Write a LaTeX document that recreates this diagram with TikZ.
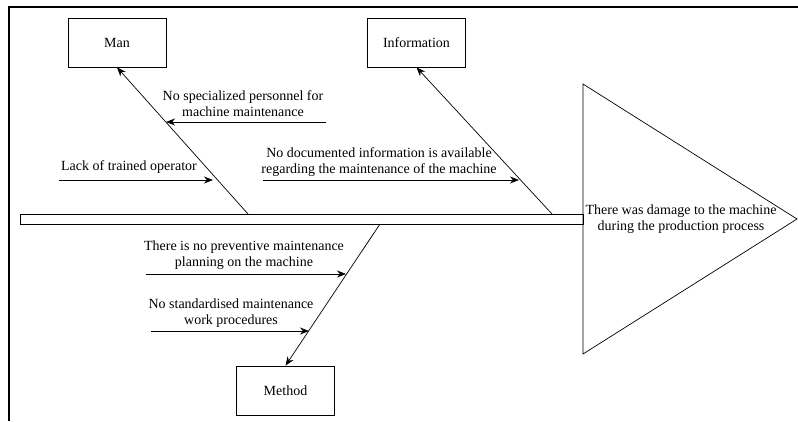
\documentclass[tikz,border=0pt]{standalone}
\usepackage{fontspec}
\setmainfont{Liberation Serif}
\usetikzlibrary{arrows.meta}
\begin{document}
\begin{tikzpicture}[x=1pt,y=-1pt,
  catbox/.style={draw,line width=0.7pt,minimum width=98pt,minimum height=49pt,font=\fontsize{14}{15}\selectfont,inner sep=0pt},
  bone/.style={line width=0.7pt,-{Stealth[length=9pt,width=7pt]}},
  lbl/.style={font=\fontsize{14}{16}\selectfont,align=center,inner sep=0pt}]
\useasboundingbox (0,0) rectangle (798,421);
% frame (top and left only)
\draw[line width=2.5pt] (9,421) -- (9,7) -- (798,7);
% boxes
\node[catbox] (man) at (117,42.5) {Man};
\node[catbox] (info) at (416.5,42.5) {Information};
\node[catbox] (method) at (285.5,390.5) {Method};
% spine
\draw[line width=0.7pt] (20,214) rectangle (583,224);
% head triangle
\draw[line width=0.7pt] (583,84) -- (797,219) -- (583,354) -- cycle;
\node[lbl] (effect) at (681,219) {There was damage to the machine\\during the production process};
% main bones
\coordinate (manS) at (248,214);
\coordinate (infoS) at (552,214);
\coordinate (methS) at (380,224);
\draw[bone] (manS) -- (man.south);
\draw[bone] (infoS) -- (info.south);
\draw[bone] (methS) -- (method.north);
% cause arrows
\coordinate (c1s) at (326,122); \coordinate (c1e) at (166,122);
\coordinate (c2s) at (59,180);  \coordinate (c2e) at (213,180);
\coordinate (c3s) at (263,180); \coordinate (c3e) at (519,180);
\coordinate (c4s) at (146,274); \coordinate (c4e) at (346,274);
\coordinate (c5s) at (151,331); \coordinate (c5e) at (309,331);
\draw[bone] (c1s) -- (c1e);
\draw[bone] (c2s) -- (c2e);
\draw[bone] (c3s) -- (c3e);
\draw[bone] (c4s) -- (c4e);
\draw[bone] (c5s) -- (c5e);
% labels
\node[lbl] (t1) at (243,103.5) {No specialized personnel for\\machine maintenance};
\node[lbl] (t2) at (129,167) {Lack of trained operator};
\node[lbl] (t3) at (379,162.5) {No documented information is available\\regarding the maintenance of the machine};
\node[lbl] (t4) at (244,255.5) {There is no preventive maintenance\\planning on the machine};
\node[lbl] (t5) at (231,313) {No standardised maintenance\\work procedures};
\end{tikzpicture}
\end{document}
